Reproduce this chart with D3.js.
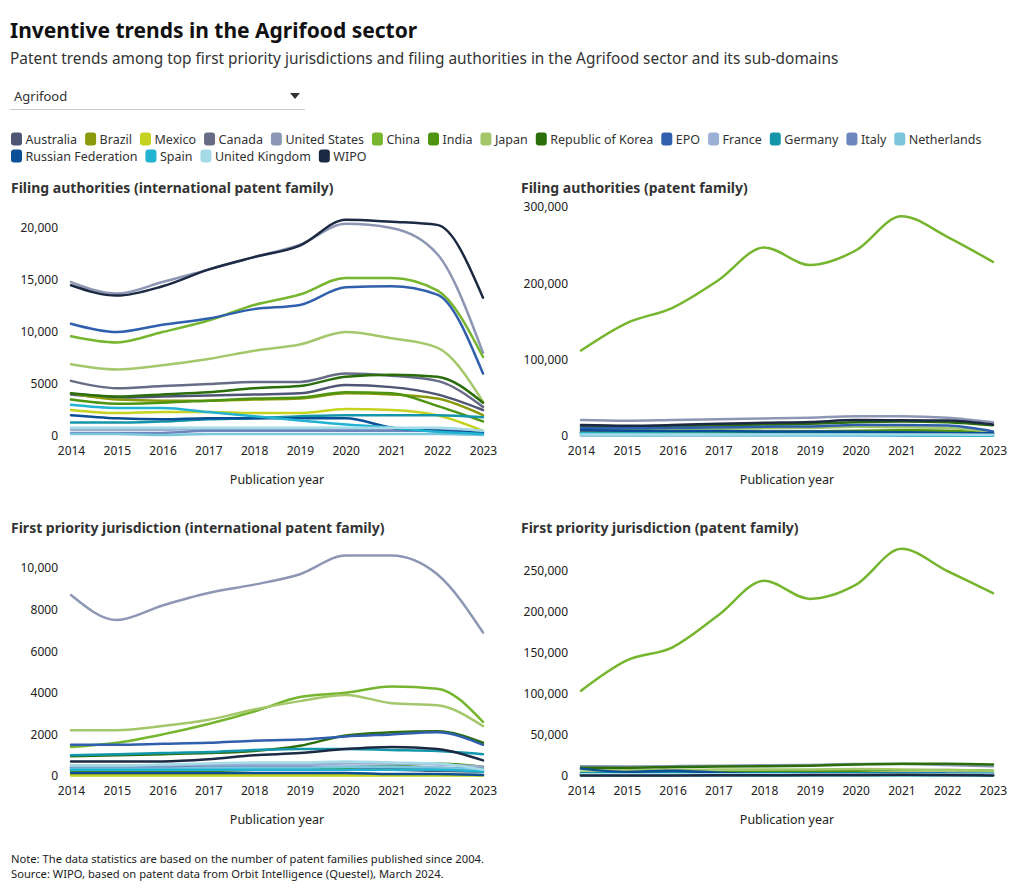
<!DOCTYPE html>
<html><head><meta charset="utf-8">
<script src="https://cdn.jsdelivr.net/npm/d3@7"></script>
<style>
body{margin:0;background:#fff;font-family:"Noto Sans",sans-serif;}
svg text{font-family:"Noto Sans",sans-serif;}
</style></head>
<body>
<svg id="c" width="1020" height="893"></svg>
<script>
const years = [2014,2015,2016,2017,2018,2019,2020,2021,2022,2023];
const countries = ["Australia","Brazil","Mexico","Canada","United States","China","India","Japan","Republic of Korea","EPO","France","Germany","Italy","Netherlands","Russian Federation","Spain","United Kingdom","WIPO"];
const colors = ["#4f5574","#8a9a0a","#c5d220","#676c86","#8d97b5","#76b52e","#4f9410","#a3c76a","#2a6e0c","#2f5fad","#9cb0d6","#1496aa","#6b87bd","#7cc6dc","#0b4f96","#22b2d2","#a4dbe7","#1c2943"];

// Filing authorities (international patent family)
const filingIPF = [
 [4000,3700,3800,3900,4000,4100,4900,4700,4000,2500],
 [4100,3500,3400,3400,3500,3600,4100,4000,3600,2000],
 [2500,2200,2300,2300,2200,2200,2600,2500,2000,500],
 [5300,4600,4800,5000,5200,5200,6000,5800,5300,2800],
 [14800,13700,14800,16000,17200,18400,20400,20000,17500,8000],
 [9600,9000,10000,11100,12600,13600,15200,15200,14000,7600],
 [3500,3100,3200,3400,3600,3700,4200,4100,2900,1400],
 [6900,6400,6800,7400,8200,8800,10000,9400,8500,3300],
 [4100,3800,4000,4200,4600,4800,5700,5900,5700,3200],
 [10800,10000,10700,11300,12200,12600,14300,14400,13600,6000],
 [600,600,600,700,700,700,700,700,700,400],
 [1300,1300,1400,1600,1700,1900,2000,2000,2000,1800],
 [300,300,300,500,500,500,500,500,500,300],
 [200,200,100,200,200,200,200,200,200,100],
 [2000,1700,1600,1700,1700,1700,1700,800,500,300],
 [3000,2700,2700,2300,1900,1500,1100,800,400,200],
 [800,800,800,800,800,800,800,800,800,500],
 [14500,13500,14400,16000,17200,18300,20800,20600,20300,13300]
];
// Filing authorities (patent family)
const filingPF = [
 [4500,4200,4300,4400,4500,4600,5400,5200,4500,2800],
 [5000,4500,4400,4400,4500,4600,5200,5000,4600,2600],
 [2800,2500,2600,2600,2500,2500,2900,2800,2300,700],
 [5500,4800,5000,5200,5400,5400,6200,6000,5500,3000],
 [21000,20000,21000,22000,23000,24000,26000,26000,24000,18000],
 [112000,148000,168000,204000,247000,224000,243000,288000,261000,228000],
 [4000,4000,4500,5000,5500,6000,7000,7500,7000,4000],
 [9000,8500,9000,9500,10000,10500,12000,11500,10500,5000],
 [12000,12000,13000,14000,15000,16000,18000,19000,18000,14000],
 [10800,10000,10700,11300,12200,12600,14300,14400,13600,6000],
 [1500,1500,1500,1500,1500,1500,1500,1500,1500,1000],
 [2500,2500,2600,2700,2800,2900,3000,3000,3000,2700],
 [1000,1000,1000,1000,1000,1000,1000,1000,1000,800],
 [500,500,500,500,500,500,500,500,500,400],
 [8000,7000,6500,6500,6000,6000,5500,5000,4000,3500],
 [3500,3200,3100,2700,2300,1900,1500,1100,700,500],
 [2000,2000,2000,2000,2000,2000,2000,2000,2000,1500],
 [14500,13500,14400,16000,17200,18300,20800,20600,20300,15000]
];
// First priority jurisdiction (international patent family)
const priorIPF = [
 [300,300,300,300,300,300,300,300,250,200],
 [50,50,50,50,50,50,50,50,50,50],
 [30,30,30,30,30,30,30,30,30,30],
 [400,400,400,400,400,400,400,400,350,250],
 [8700,7500,8200,8800,9200,9700,10600,10600,9700,6900],
 [1400,1600,2000,2500,3100,3800,4000,4300,4200,2600],
 [250,250,250,250,300,350,400,500,600,450],
 [2200,2200,2400,2700,3200,3600,3900,3500,3400,2400],
 [950,1000,1050,1100,1200,1450,1950,2100,2150,1600],
 [1500,1500,1550,1600,1700,1750,1900,2000,2100,1500],
 [500,500,500,550,550,550,600,600,550,450],
 [1000,1050,1100,1150,1250,1300,1300,1250,1200,1050],
 [400,400,400,450,450,450,450,450,400,350],
 [350,350,350,400,400,400,450,450,400,300],
 [150,150,150,150,150,150,150,100,100,50],
 [300,300,300,300,300,300,300,300,300,200],
 [500,500,550,600,650,650,700,650,600,300],
 [700,700,700,800,1000,1100,1300,1400,1300,750]
];
// First priority jurisdiction (patent family)
const priorPF = [
 [1500,1500,1500,1500,1500,1500,1500,1500,1400,1200],
 [500,500,500,500,500,500,500,500,500,500],
 [300,300,300,300,300,300,300,300,300,300],
 [2000,2000,2000,2000,2000,2000,2000,2000,1800,1500],
 [12000,11500,12000,12500,13000,13500,14500,14500,13500,12000],
 [104000,141000,157000,196000,238000,216000,233000,277000,250000,223000],
 [4000,4000,4500,5000,5500,6000,6500,7000,7000,6500],
 [8000,7500,7500,7800,8000,8000,8500,8000,7500,6500],
 [10000,10000,11000,11500,12000,12500,14000,15000,15000,14000],
 [1500,1500,1550,1600,1700,1750,1900,2000,2100,1500],
 [2500,2500,2500,2500,2500,2500,2500,2500,2400,2000],
 [3500,3500,3500,3500,3500,3500,3500,3300,3200,3000],
 [1000,1000,1000,1000,1000,1000,1000,1000,1000,900],
 [600,600,600,600,600,600,600,600,600,500],
 [9000,5000,6500,4000,2500,2500,2500,2500,2500,2000],
 [1200,1200,1200,1200,1200,1200,1200,1200,1200,1000],
 [2000,2000,2000,2000,2000,2000,2000,2000,2000,1800],
 [700,700,700,800,1000,1100,1300,1400,1300,750]
];

const panelTitles = ["Filing authorities (international patent family)","Filing authorities (patent family)","First priority jurisdiction (international patent family)","First priority jurisdiction (patent family)"];
const yTicks = [[0,5000,10000,15000,20000],[0,100000,200000,300000],[0,2000,4000,6000,8000,10000],[0,50000,100000,150000,200000,250000]];
const yMax = [20000,300000,10000,250000];
const panelData = [filingIPF, filingPF, priorIPF, priorPF];

const svg = d3.select("#c");
svg.append("text").attr("x",10).attr("y",38).attr("font-size",21).attr("font-weight",700).attr("fill","#111").text("Inventive trends in the Agrifood sector");
svg.append("text").attr("x",10).attr("y",64).attr("font-size",15.4).attr("fill","#333").text("Patent trends among top first priority jurisdictions and filing authorities in the Agrifood sector and its sub-domains");

// dropdown
svg.append("text").attr("x",14).attr("y",101).attr("font-size",13).attr("fill","#333").text("Agrifood");
svg.append("line").attr("x1",10).attr("x2",305).attr("y1",109.5).attr("y2",109.5).attr("stroke","#ccc");
svg.append("path").attr("d","M290,93 L300,93 L295,99 Z").attr("fill","#333");

// legend
const lg = svg.append("g");
let lx = 11, ly = 139;
countries.forEach((c,i)=>{
  if (c === "Russian Federation") { lx = 11; ly = 156; }
  const g = lg.append("g").attr("transform",`translate(${lx},${ly})`);
  g.append("rect").attr("x",0).attr("y",-6.5).attr("width",11).attr("height",13).attr("rx",3).attr("fill",colors[i]);
  const t = g.append("text").attr("x",14.5).attr("y",4.5).attr("font-size",12.5).attr("fill","#333").text(c);
  lx += 14.5 + t.node().getComputedTextLength() + 8;
});

const fmt = v => v >= 10000 ? d3.format(",")(v) : String(v);
const panels = [
  {x0:71,x1:483,yb:436,ty:193},
  {x0:581,x1:993,yb:436,ty:193},
  {x0:71,x1:483,yb:776,ty:533},
  {x0:581,x1:993,yb:776,ty:533}
];
const topPx = [228,207,568,571];

panels.forEach((p,k)=>{
  const x = d3.scaleLinear().domain([2014,2023]).range([p.x0,p.x1]);
  const y = d3.scaleLinear().domain([0,yMax[k]]).range([p.yb, topPx[k]]);
  const g = svg.append("g");
  g.append("text").attr("x",p.x0-60).attr("y",p.ty).attr("font-size",14).attr("font-weight",700).attr("fill","#333").text(panelTitles[k]);
  const xa = g.append("g").attr("transform",`translate(0,${p.yb})`).call(d3.axisBottom(x).tickValues(years).tickFormat(d3.format("d")).tickSize(0).tickPadding(10));
  xa.select(".domain").remove();
  xa.selectAll("text").attr("font-size",12).attr("fill","#222").attr("font-family","Noto Sans");
  const ya = g.append("g").attr("transform",`translate(${p.x0-13},0)`).call(d3.axisLeft(y).tickValues(yTicks[k]).tickFormat(fmt).tickSize(0).tickPadding(0));
  ya.select(".domain").remove();
  ya.selectAll("text").attr("font-size",12).attr("fill","#222").attr("font-family","Noto Sans");
  g.append("text").attr("x",(p.x0+p.x1)/2).attr("y",p.yb+48).attr("text-anchor","middle").attr("font-size",12.5).attr("fill","#222").text("Publication year");
  const line = d3.line().x((d,i)=>x(years[i])).y(d=>y(d)).curve(d3.curveMonotoneX);
  panelData[k].forEach((s,i)=>{
    g.append("path").attr("d",line(s)).attr("fill","none").attr("stroke",colors[i]).attr("stroke-width",2.5).attr("stroke-linejoin","round").attr("stroke-linecap","round");
  });
});

svg.append("text").attr("x",11).attr("y",863).attr("font-size",11.2).attr("fill","#222").text("Note: The data statistics are based on the number of patent families published since 2004.");
svg.append("text").attr("x",11).attr("y",878).attr("font-size",11.2).attr("fill","#222").text("Source: WIPO, based on patent data from Orbit Intelligence (Questel), March 2024.");
</script>
</body></html>
